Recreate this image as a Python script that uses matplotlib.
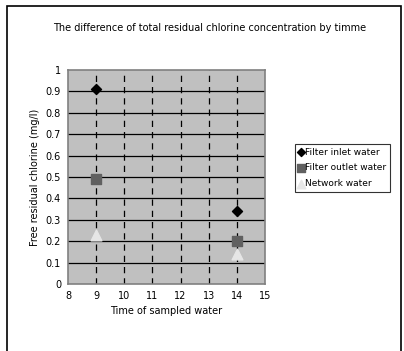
import matplotlib
matplotlib.use("Agg")
from matplotlib import pyplot as plt
from matplotlib.patches import Rectangle

# values
times = [9, 14]
inlet = [0.91, 0.34]
outlet = [0.49, 0.20]
network = [0.23, 0.14]

fig = plt.figure(figsize=(4.04, 3.51), dpi=100)
# outer chart border (bottom edge runs off the picture)
fig.patches.append(Rectangle((7 / 404, -0.02), 394 / 404, 1.003, transform=fig.transFigure,
                             fill=False, edgecolor='black', linewidth=1.2))

ax = fig.add_axes([68 / 404, 1 - 284 / 351, 197 / 404, 214 / 351])
ax.set_facecolor('#c0c0c0')
ax.set_xlim(8, 15)
ax.set_ylim(0, 1)
ax.set_xticks(range(8, 16))
ax.set_yticks([i / 10 for i in range(11)])
ax.set_yticklabels(['0', '0.1', '0.2', '0.3', '0.4', '0.5', '0.6', '0.7', '0.8', '0.9', '1'])
ax.tick_params(length=0, labelsize=7, pad=5)
for s in ax.spines.values():
    s.set_color('#808080')
    s.set_linewidth(1.2)

for y in [i / 10 for i in range(1, 10)]:
    ax.axhline(y, color='black', linewidth=0.9, zorder=1)
for x in range(9, 15):
    ax.axvline(x, color='black', linewidth=0.9, linestyle=(0, (5, 4)), zorder=1)

ax.scatter(times, inlet, marker='D', s=26, color='black', zorder=3, label='Filter inlet water')
ax.scatter(times, outlet, marker='s', s=60, color='#606060', zorder=3, label='Filter outlet water')
ax.scatter(times, network, marker='^', s=60, color='#e6e6e6', zorder=3, label='Network water')

ax.set_xlabel('Time of sampled water', fontsize=7, labelpad=4)
ax.set_ylabel('Free residual chlorine (mg/l)', fontsize=7, labelpad=4)
fig.text(210 / 404, 1 - 28 / 351, 'The difference of total residual chlorine concentration by timme',
         ha='center', va='center', fontsize=7)

leg = ax.legend(loc='upper left', bbox_to_anchor=(295 / 404, 1 - 144 / 351),
                bbox_transform=fig.transFigure, fontsize=6.5, frameon=True, fancybox=False,
                handlelength=0.5, handletextpad=0.2, borderpad=0.4, labelspacing=0.75,
                borderaxespad=0, markerscale=0.8)
leg.get_frame().set_edgecolor('black')
leg.get_frame().set_linewidth(0.8)

fig.savefig('out.png', dpi=100)
